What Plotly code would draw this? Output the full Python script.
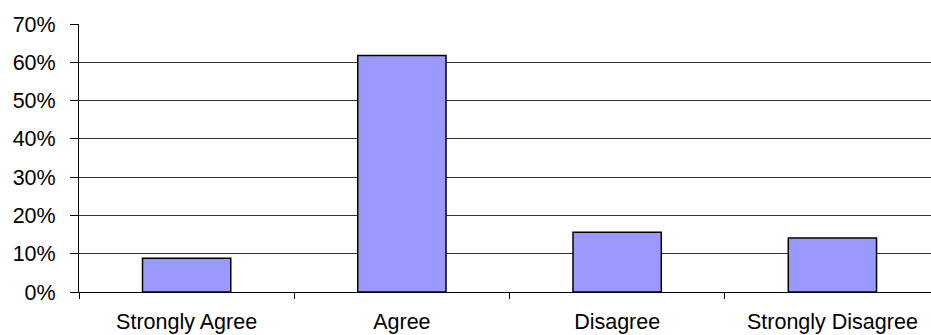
import plotly.graph_objects as go

categories = ["Strongly Agree", "Agree", "Disagree", "Strongly Disagree"]
values = [8.8, 61.8, 15.6, 14.1]
y_ticks = [0, 10, 20, 30, 40, 50, 60, 70]
y_tick_labels = ["0%", "10%", "20%", "30%", "40%", "50%", "60%", "70%"]

fig = go.Figure(
    go.Bar(
        x=categories,
        y=values,
        width=0.41,
        marker=dict(color="#9999FF", line=dict(color="#000000", width=1.5)),
        hoverinfo="x+y",
    )
)

font = dict(family="Liberation Sans, Arial, sans-serif", size=21.5, color="#000000")

fig.update_layout(
    width=931,
    height=335,
    margin=dict(l=79, r=0, t=24, b=43),
    paper_bgcolor="white",
    plot_bgcolor="white",
    showlegend=False,
    font=font,
    bargap=0.59,
)

fig.update_xaxes(
    type="category",
    range=[-0.5, 3.458],
    showline=True,
    linecolor="#000000",
    linewidth=1,
    showgrid=False,
    ticks="outside",
    tickson="boundaries",
    ticklen=6,
    tickcolor="#000000",
    tickwidth=1,
    ticklabelstandoff=10,
    tickfont=font,
    zeroline=False,
)

fig.update_yaxes(
    range=[0, 70],
    tickvals=y_ticks,
    ticktext=y_tick_labels,
    showline=True,
    linecolor="#000000",
    linewidth=1,
    showgrid=True,
    gridcolor="#333333",
    gridwidth=1,
    ticks="outside",
    ticklen=8,
    tickcolor="#000000",
    tickwidth=1,
    ticklabelstandoff=10,
    tickfont=font,
    zeroline=False,
)

fig.write_html("out.html")
